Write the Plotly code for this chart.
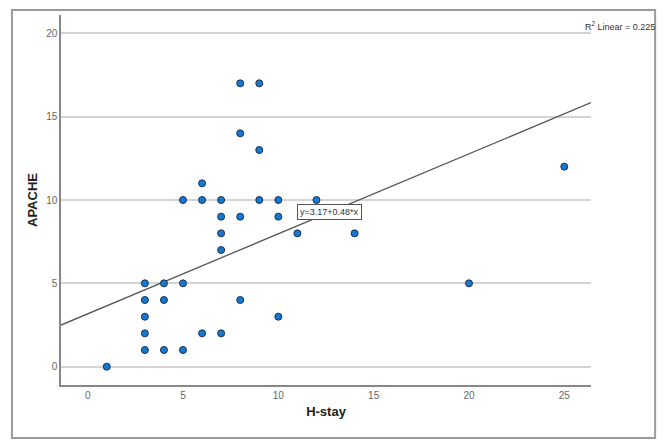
import plotly.graph_objects as go

h_stay = [1, 3, 3, 3, 3, 3, 4, 4, 4, 5, 5, 5, 6, 6, 6, 7, 7, 7, 7, 7,
          8, 8, 8, 8, 9, 9, 9, 10, 10, 10, 11, 12, 14, 20, 25]
apache = [0, 1, 2, 3, 4, 5, 1, 4, 5, 1, 5, 10, 2, 10, 11, 2, 7, 8, 9, 10,
          4, 9, 14, 17, 10, 13, 17, 3, 9, 10, 8, 10, 8, 5, 12]
intercept = 3.17
slope = 0.48
r2 = 0.225
x_range = [-1.4, 26.4]
y_range = [-1.1, 21.1]
y_ticks = [0, 5, 10, 15, 20]
x_ticks = [0, 5, 10, 15, 20, 25]

fig = go.Figure()
fig.add_trace(go.Scatter(
    x=x_range, y=[intercept + slope * v for v in x_range],
    mode="lines", line=dict(color="#555555", width=1.3),
    hoverinfo="skip", showlegend=False))
fig.add_trace(go.Scatter(
    x=h_stay, y=apache, mode="markers",
    marker=dict(size=7, color="#1479d2", line=dict(color="#1f2f4a", width=1)),
    showlegend=False))

fig.add_annotation(x=11.0, y=9.3, xref="x", yref="y", xanchor="left",
                   text="y=3.17+0.48*x", showarrow=False,
                   font=dict(family="Liberation Sans", size=9, color="#333333"),
                   bgcolor="white", bordercolor="#555555", borderwidth=1, borderpad=2)
fig.add_annotation(x=1.1245, y=1.0, xref="paper", yref="paper", xanchor="right", yanchor="top",
                   yshift=-3,
                   text="R<sup>2</sup> Linear = %.3f" % r2, showarrow=False,
                   font=dict(family="Liberation Sans", size=9, color="#333333"))

# outer frame
fig.add_shape(type="rect", xref="paper", yref="paper",
              x0=-0.0925, x1=1.121, y0=-0.143, y1=1.0135,
              line=dict(color="#9a9a9a", width=2), layer="below")

fig.update_layout(
    width=670, height=441,
    margin=dict(l=61, r=79, t=15, b=56),
    paper_bgcolor="white", plot_bgcolor="white",
    font=dict(family="Liberation Sans", color="#555555"),
    xaxis=dict(range=x_range, tickvals=x_ticks, showgrid=False, zeroline=False,
               showline=True, linecolor="#888888", linewidth=1.5, ticks="",
               tickfont=dict(size=10, color="#666666"),
               title=dict(text="<b>H-stay</b>", font=dict(size=13, color="#222222"), standoff=7)),
    yaxis=dict(range=y_range, tickvals=y_ticks, showgrid=True, gridcolor="#d4d4d4", gridwidth=1.5,
               zeroline=False, showline=True, linecolor="#888888", linewidth=1.5, ticks="",
               tickfont=dict(size=10, color="#666666"),
               title=dict(text="<b>APACHE</b>", font=dict(size=13, color="#222222"), standoff=6)),
)

fig.write_html("out.html", config={"displayModeBar": False})
with open("out.html", "r", encoding="utf-8") as f:
    html = f.read()
html = html.replace("<body>", '<body style="margin:0;overflow:hidden">', 1)
with open("out.html", "w", encoding="utf-8") as f:
    f.write(html)
